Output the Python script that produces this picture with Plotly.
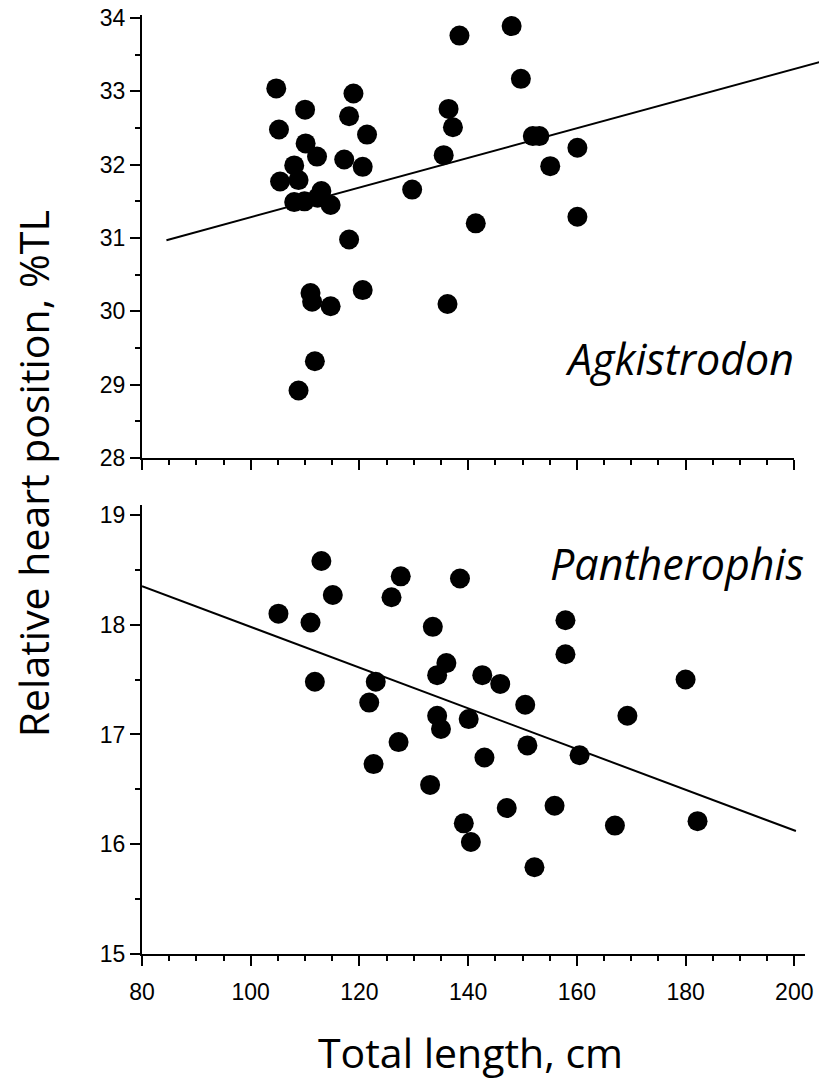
import plotly.graph_objects as go

# ---------------- data ----------------
# Agkistrodon (top panel)
agk_length = [104.7, 105.2, 105.4, 110.0, 108.0, 110.1, 112.2, 108.8, 108.0, 109.9,
              113.0, 112.3, 114.7, 117.2, 118.1, 118.9, 121.4, 120.6, 129.7, 118.1,
              111.0, 111.3, 114.7, 120.6, 111.8, 108.8, 135.5, 136.4, 137.2, 136.2,
              138.4, 148.0, 149.7, 151.9, 153.1, 160.1, 155.1, 141.4, 160.1]
agk_heart = [33.04, 32.48, 31.77, 32.75, 31.99, 32.29, 32.11, 31.79, 31.49, 31.50,
             31.64, 31.55, 31.45, 32.07, 32.66, 32.97, 32.41, 31.97, 31.66, 30.98,
             30.25, 30.13, 30.07, 30.29, 29.32, 28.92, 32.13, 32.76, 32.51, 30.10,
             33.76, 33.89, 33.17, 32.39, 32.39, 32.23, 31.98, 31.20, 31.29]
agk_fit_x = [84.5, 204.7]
agk_fit_y = [30.97, 33.40]

# Pantherophis (bottom panel)
pan_length = [105.1, 111.0, 113.0, 115.1, 111.8, 123.0, 121.8, 122.6, 125.9, 127.6,
              127.2, 133.5, 133.0, 134.3, 136.0, 134.3, 135.0, 138.5, 142.6, 145.9,
              150.5, 140.1, 150.9, 143.0, 147.1, 155.9, 139.2, 140.5, 152.2, 157.9,
              157.9, 160.5, 169.3, 180.0, 167.0, 182.2]
pan_heart = [18.10, 18.02, 18.58, 18.27, 17.48, 17.48, 17.29, 16.73, 18.25, 18.44,
             16.93, 17.98, 16.54, 17.54, 17.65, 17.17, 17.05, 18.42, 17.54, 17.46,
             17.27, 17.14, 16.90, 16.79, 16.33, 16.35, 16.19, 16.02, 15.79, 18.04,
             17.73, 16.81, 17.17, 17.50, 16.17, 16.21]
pan_fit_x = [80.0, 200.3]
pan_fit_y = [18.35, 16.12]

x_ticks = [80, 100, 120, 140, 160, 180, 200]
top_y_ticks = [28, 29, 30, 31, 32, 33, 34]
bottom_y_ticks = [15, 16, 17, 18, 19]

# ---------------- figure ----------------
TICKFONT = dict(family="Liberation Sans, Arial, sans-serif", size=23, color="black")
XTITLEFONT = dict(family="Open Sans, sans-serif", size=41, color="black")
YTITLEFONT = dict(family="Open Sans, sans-serif", size=41, color="black")
LABELFONT = dict(family="Open Sans, sans-serif", size=43, color="black")
marker = dict(size=20, color="black", line=dict(width=0))

fig = go.Figure()
fig.add_trace(go.Scatter(x=agk_length, y=agk_heart, mode="markers", marker=marker,
                         xaxis="x", yaxis="y", cliponaxis=False, showlegend=False,
                         hoverinfo="skip"))
fig.add_trace(go.Scatter(x=agk_fit_x, y=agk_fit_y, mode="lines",
                         line=dict(color="black", width=2),
                         xaxis="x3", yaxis="y", showlegend=False, hoverinfo="skip"))
fig.add_trace(go.Scatter(x=pan_length, y=pan_heart, mode="markers", marker=marker,
                         xaxis="x2", yaxis="y2", cliponaxis=False, showlegend=False,
                         hoverinfo="skip"))
fig.add_trace(go.Scatter(x=pan_fit_x, y=pan_fit_y, mode="lines",
                         line=dict(color="black", width=2),
                         xaxis="x2", yaxis="y2", showlegend=False, hoverinfo="skip"))

W, H = 827, 1083
ML, MR, MT, MB = 142, 0, 15, 129
PW = W - ML - MR
PH = H - MT - MB
px_per_x = 660 / 120.0


def xdom(px_right):
    return [0, (px_right - ML) / PW]


def ydom(px_top, px_bottom):
    return [(H - MB - px_bottom) / PH, (H - MB - px_top) / PH]


common_x = dict(showline=True, linewidth=2, linecolor="black", ticks="outside",
                ticklen=10, tickwidth=2, tickcolor="black", tickvals=x_ticks,
                showgrid=False, zeroline=False, tickfont=TICKFONT,
                minor=dict(ticks="outside", ticklen=5, tickwidth=2, tickcolor="black",
                           dtick=5, tick0=80, showgrid=False))
common_y = dict(showline=True, linewidth=2, linecolor="black", ticks="outside",
                ticklen=10, tickwidth=2, tickcolor="black", showgrid=False,
                zeroline=False, tickfont=TICKFONT,
                minor=dict(ticks="outside", ticklen=5, tickwidth=2, tickcolor="black",
                           dtick=0.5, showgrid=False))

fig.update_layout(
    width=W, height=H,
    margin=dict(l=ML, r=MR, t=MT, b=MB, pad=0),
    paper_bgcolor="white", plot_bgcolor="rgba(0,0,0,0)",
    xaxis=dict(common_x, domain=xdom(802), range=[80, 200], anchor="y",
               showticklabels=False),
    xaxis2=dict(common_x, domain=xdom(802 + 1.95 * px_per_x), range=[80, 201.95],
                anchor="y2", ticklabelstandoff=6),
    xaxis3=dict(domain=[0, 1], range=[80, 80 + PW / px_per_x], anchor="y",
                visible=False, showgrid=False, zeroline=False),
    yaxis=dict(common_y, domain=ydom(15, 458), range=[28, 34.041], anchor="x",
               tickvals=top_y_ticks),
    yaxis2=dict(common_y, domain=ydom(505, 954), range=[15, 19.09], anchor="x2",
                tickvals=bottom_y_ticks),
    annotations=[
        dict(text="Relative heart position, %TL", xref="paper", yref="paper",
             x=(32 - ML) / PW, y=(H - MB - 474) / PH, xanchor="center",
             yanchor="middle", textangle=-90, showarrow=False, font=YTITLEFONT),
        dict(text="Total length, cm", xref="paper", yref="paper",
             x=(474 - ML) / PW, y=(H - MB - 1082) / PH, xanchor="center",
             yanchor="bottom", showarrow=False, font=XTITLEFONT),
        dict(text="<i>Agkistrodon</i>", xref="paper", yref="paper",
             x=(804 - ML) / PW, y=(H - MB - 359) / PH, xanchor="right",
             yanchor="middle", showarrow=False, font=LABELFONT),
        dict(text="<i>Pantherophis</i>", xref="paper", yref="paper",
             x=(814 - ML) / PW, y=(H - MB - 564) / PH, xanchor="right",
             yanchor="middle", showarrow=False, font=LABELFONT),
    ],
)

fig.write_html("out.html",
               config={"displayModeBar": False, "staticPlot": True},
               post_script="document.body.style.margin='0';"
                           "document.body.style.overflow='hidden';")
